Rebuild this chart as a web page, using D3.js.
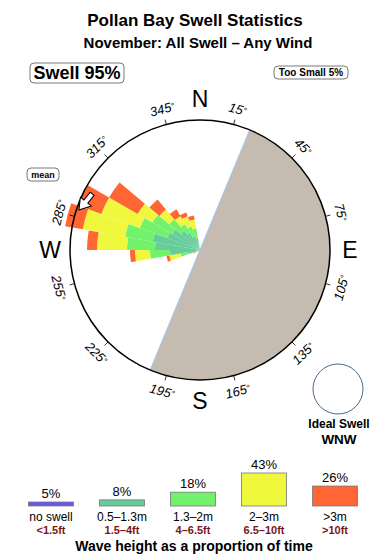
<!DOCTYPE html>
<html>
<head>
<meta charset="utf-8">
<script src="https://cdn.jsdelivr.net/npm/d3@7"></script>
<style>
  body { margin: 0; background: #fff; }
  svg { display: block; font-family: "Liberation Sans", Arial, Helvetica, sans-serif; }
</style>
</head>
<body>
<div id="viz"></div>
<script>
// direction bins (degrees, centre of each 10 degree spoke)
const directions = [245, 255, 265, 275, 285, 295, 305, 315, 325, 335, 345];
// spoke length contributed by each wave height class (rose units)
const small = [0.3, 1.2, 3.0, 4.5, 4.8, 3.5, 3.2, 2.5, 2.0, 1.5, 1.2];   // 0.5-1.3m
const medium = [0.2, 0.8, 2.0, 2.8, 2.8, 2.9, 2.3, 1.5, 1.0, 1.0, 1.0];  // 1.3-2m
const large = [0.1, 1.1, 1.5, 3.0, 4.3, 4.1, 1.7, 1.3, 0.9, 1.1, 0.9];   // 2-3m
const huge = [0.1, 0.3, 0.5, 1.0, 1.8, 2.5, 3.3, 1.3, 0.8, 0.4, 0.4];    // >3m

// legend
const classes = ['no swell', '0.5\u20131.3m', '1.3\u20132m', '2\u20133m', '>3m'];
const classFeet = ['<1.5ft', '1.5\u20134ft', '4\u20136.5ft', '6.5\u201310ft', '>10ft'];
const classShare = [5, 8, 18, 43, 26];
const classColors = ['#6a58ee', '#66cc99', '#72f26c', '#f0f83e', '#ff6633'];

const tickAngles = [15, 45, 75, 105, 135, 165, 195, 225, 255, 285, 315, 345];
const compass = [['N', 0], ['E', 90], ['S', 180], ['W', 270]];
const meanDirection = 293;
const shoreFrom = 22.5;   // land sector, degrees
const shoreTo = 202.5;

const width = 390;
const height = 560;
const cx = 200;
const cy = 250;
const R = 130;
const rad = d => d * Math.PI / 180;

const svg = d3.select('#viz')
  .append('svg')
  .attr('width', width)
  .attr('height', height);

// titles
svg.append('text')
  .attr('x', 195).attr('y', 26)
  .attr('text-anchor', 'middle')
  .style('font-size', '17px').style('font-weight', 'bold')
  .text('Pollan Bay Swell Statistics');
svg.append('text')
  .attr('x', 198).attr('y', 48)
  .attr('text-anchor', 'middle')
  .style('font-size', '15px').style('font-weight', 'bold')
  .text('November: All Swell \u2013 Any Wind');

// summary boxes
const badge = function (x, y, w, h, size, label) {
  svg.append('rect')
    .attr('x', x).attr('y', y).attr('width', w).attr('height', h)
    .attr('rx', 4)
    .style('fill', 'white').style('stroke', '#555').style('stroke-width', 0.8);
  svg.append('text')
    .attr('x', x + w / 2).attr('y', y + h / 2)
    .attr('dy', '0.36em')
    .attr('text-anchor', 'middle')
    .style('font-size', `${size}px`).style('font-weight', 'bold')
    .text(label);
};
badge(30, 63, 94, 20, 18, 'Swell 95%');
badge(274, 66, 74, 13, 10, 'Too Small 5%');
badge(27, 168, 32, 13, 9, 'mean');

const rose = svg.append('g')
  .attr('transform', `translate(${cx},${cy})`);

// land half of the dial
rose.append('path')
  .attr('d', d3.arc()({ innerRadius: 0, outerRadius: R, startAngle: rad(shoreFrom), endAngle: rad(shoreTo) }))
  .style('fill', '#c5bbb0');
rose.append('line')
  .attr('x1', R * Math.sin(rad(shoreFrom))).attr('y1', -R * Math.cos(rad(shoreFrom)))
  .attr('x2', R * Math.sin(rad(shoreTo))).attr('y2', -R * Math.cos(rad(shoreTo)))
  .style('stroke', '#a9c6e6').style('stroke-width', 1.2);

// stacked spokes
const r = d3.scaleLinear().domain([0, 13]).range([0, R]);
const series = [small, medium, large, huge];
const arc = d3.arc();
directions.forEach((dir, i) => {
  let base = 0;
  series.forEach((s, k) => {
    const top = base + s[i];
    rose.append('path')
      .attr('d', arc({
        innerRadius: r(base),
        outerRadius: r(top),
        startAngle: rad(dir - 5),
        endAngle: rad(dir + 5)
      }))
      .style('fill', classColors[k + 1]);
    base = top;
  });
});

// dial outline and ticks
rose.append('circle')
  .attr('r', R)
  .style('fill', 'none').style('stroke', 'black').style('stroke-width', 1.5);

rose.selectAll('.tick')
  .data(tickAngles)
  .enter()
  .append('line')
  .attr('x1', d => R * Math.sin(rad(d))).attr('y1', d => -R * Math.cos(rad(d)))
  .attr('x2', d => (R + 5) * Math.sin(rad(d))).attr('y2', d => -(R + 5) * Math.cos(rad(d)))
  .style('stroke', 'black').style('stroke-width', 0.8);

const deg = rose.selectAll('.deg')
  .data(tickAngles)
  .enter()
  .append('text')
  .attr('transform', d => {
    const x = 146 * Math.sin(rad(d));
    const y = -146 * Math.cos(rad(d));
    const rot = d > 90 && d < 270 ? d - 180 : d;
    return `translate(${x},${y}) rotate(${rot})`;
  })
  .attr('dy', '0.36em')
  .attr('text-anchor', 'middle')
  .style('font-size', '13px').style('font-style', 'italic');
deg.append('tspan').text(d => d);
deg.append('tspan')
  .attr('dy', '-0.2em')
  .style('font-size', '9px')
  .text('\u00b0');

rose.selectAll('.compass')
  .data(compass)
  .enter()
  .append('text')
  .attr('x', d => 150 * Math.sin(rad(d[1])))
  .attr('y', d => -151 * Math.cos(rad(d[1])))
  .attr('dy', '0.36em')
  .attr('text-anchor', 'middle')
  .style('font-size', '23px')
  .text(d => d[0]);

// mean direction arrow
const mx = 124 * Math.sin(rad(meanDirection));
const my = -124 * Math.cos(rad(meanDirection));
rose.append('path')
  .attr('d', 'M-10,-2.5 L0,-2.5 L0,-7 L11,0 L0,7 L0,2.5 L-10,2.5 Z')
  .attr('transform', `translate(${mx},${my}) rotate(129)`)
  .style('fill', 'white').style('stroke', 'black').style('stroke-width', 1);

// ideal swell marker
svg.append('circle')
  .attr('cx', 338).attr('cy', 389).attr('r', 25)
  .style('fill', 'white').style('stroke', '#4a6b8c').style('stroke-width', 1);
svg.append('text')
  .attr('x', 339).attr('y', 428)
  .attr('text-anchor', 'middle')
  .style('font-size', '12px').style('font-weight', 'bold')
  .text('Ideal Swell');
svg.append('text')
  .attr('x', 339).attr('y', 444)
  .attr('text-anchor', 'middle')
  .style('font-size', '13.5px').style('font-weight', 'bold')
  .text('WNW');

// legend
const lx = d3.scalePoint().domain(classes).range([51, 335]);
const lh = d3.scaleLinear().domain([0, 43]).range([0, 33]);
const baseY = 506;
const boxW = 45;

const legend = svg.selectAll('.legend')
  .data(classes)
  .enter()
  .append('g')
  .attr('transform', d => `translate(${lx(d)},0)`);

legend.append('rect')
  .attr('x', -boxW / 2)
  .attr('y', (d, i) => baseY - Math.max(lh(classShare[i]), 4))
  .attr('width', boxW)
  .attr('height', (d, i) => Math.max(lh(classShare[i]), 4))
  .style('fill', (d, i) => classColors[i])
  .style('stroke', '#777').style('stroke-width', 0.8);

legend.append('text')
  .attr('y', (d, i) => baseY - Math.max(lh(classShare[i]), 4) - 4)
  .attr('text-anchor', 'middle')
  .style('font-size', '13px')
  .text((d, i) => `${classShare[i]}%`);

legend.append('text')
  .attr('y', 521)
  .attr('text-anchor', 'middle')
  .style('font-size', '12px')
  .text(d => d);

legend.append('text')
  .attr('y', 534)
  .attr('text-anchor', 'middle')
  .style('font-size', '11px').style('font-weight', 'bold')
  .style('fill', '#7d1414')
  .text((d, i) => classFeet[i]);

svg.append('text')
  .attr('x', 194).attr('y', 551)
  .attr('text-anchor', 'middle')
  .style('font-size', '14px').style('font-weight', 'bold')
  .text('Wave height as a proportion of time');
</script>
</body>
</html>
